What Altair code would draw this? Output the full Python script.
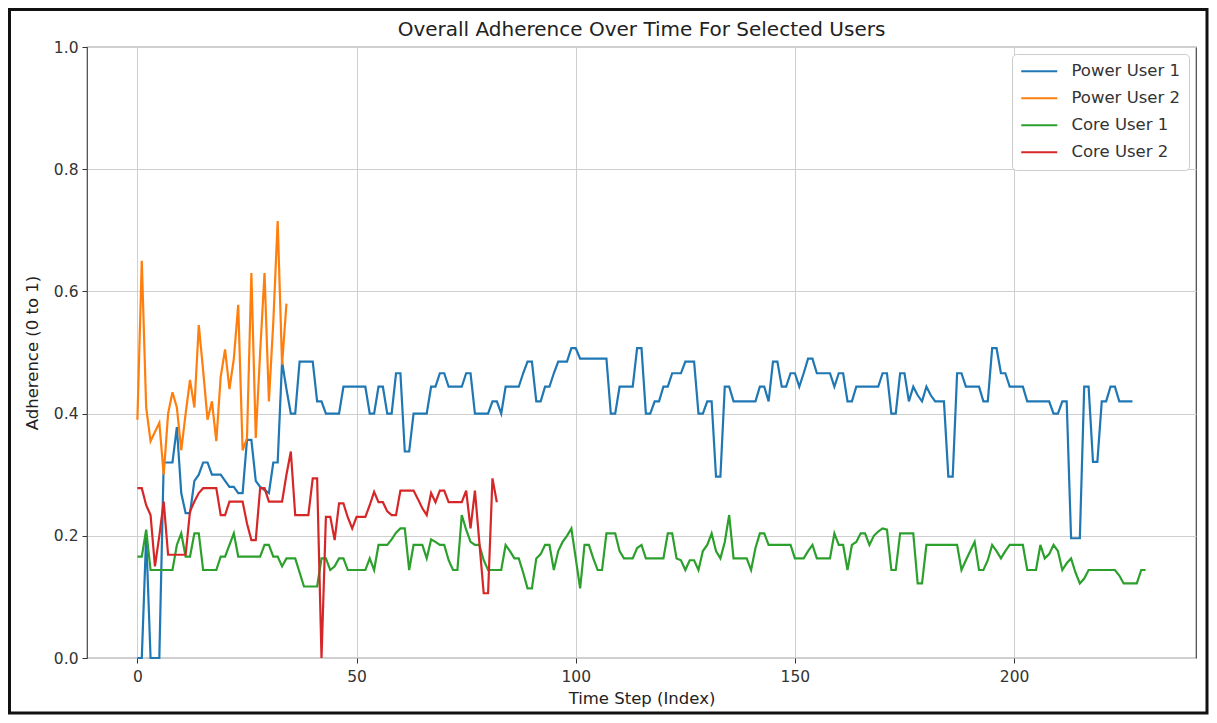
import altair as alt
import pandas as pd

power_user_1 = [
    0.0, 0.0, 0.2, 0.0, 0.0, 0.0, 0.32, 0.32, 0.32, 0.378,
    0.27, 0.237, 0.237, 0.29, 0.30, 0.32, 0.32, 0.30, 0.30, 0.30,
    0.29, 0.28, 0.28, 0.27, 0.27, 0.357, 0.357, 0.29, 0.28, 0.275,
    0.27, 0.32, 0.32, 0.485, 0.44, 0.40, 0.40, 0.485, 0.485, 0.485,
    0.485, 0.42, 0.42, 0.40, 0.40, 0.40, 0.40, 0.444, 0.444, 0.444,
    0.444, 0.444, 0.444, 0.40, 0.40, 0.444, 0.444, 0.40, 0.40, 0.466,
    0.466, 0.338, 0.338, 0.40, 0.40, 0.40, 0.40, 0.444, 0.444, 0.466,
    0.466, 0.444, 0.444, 0.444, 0.444, 0.466, 0.466, 0.40, 0.40, 0.40,
    0.40, 0.42, 0.42, 0.40, 0.444, 0.444, 0.444, 0.444, 0.466, 0.485,
    0.485, 0.42, 0.42, 0.444, 0.444, 0.466, 0.485, 0.485, 0.485, 0.507,
    0.507, 0.49, 0.49, 0.49, 0.49, 0.49, 0.49, 0.49, 0.40, 0.40,
    0.444, 0.444, 0.444, 0.444, 0.507, 0.507, 0.40, 0.40, 0.42, 0.42,
    0.444, 0.444, 0.466, 0.466, 0.466, 0.485, 0.485, 0.485, 0.40, 0.40,
    0.42, 0.42, 0.297, 0.297, 0.444, 0.444, 0.42, 0.42, 0.42, 0.42,
    0.42, 0.42, 0.444, 0.444, 0.42, 0.485, 0.485, 0.444, 0.444, 0.466,
    0.466, 0.444, 0.466, 0.49, 0.49, 0.466, 0.466, 0.466, 0.466, 0.444,
    0.466, 0.466, 0.42, 0.42, 0.444, 0.444, 0.444, 0.444, 0.444, 0.444,
    0.466, 0.466, 0.40, 0.40, 0.466, 0.466, 0.42, 0.444, 0.43, 0.42,
    0.444, 0.43, 0.42, 0.42, 0.42, 0.297, 0.297, 0.466, 0.466, 0.444,
    0.444, 0.444, 0.444, 0.42, 0.42, 0.507, 0.507, 0.466, 0.466, 0.444,
    0.444, 0.444, 0.444, 0.42, 0.42, 0.42, 0.42, 0.42, 0.42, 0.40,
    0.40, 0.42, 0.42, 0.196, 0.196, 0.196, 0.444, 0.444, 0.321, 0.321,
    0.42, 0.42, 0.444, 0.444, 0.42, 0.42, 0.42, 0.42,
]

power_user_2 = [
    0.39, 0.65, 0.41, 0.355, 0.37, 0.385, 0.30, 0.40, 0.435, 0.41,
    0.34, 0.40, 0.455, 0.41, 0.545, 0.47, 0.39, 0.42, 0.355, 0.46,
    0.505, 0.44, 0.49, 0.578, 0.34, 0.36, 0.63, 0.36, 0.50, 0.63,
    0.42, 0.55, 0.715, 0.48, 0.58,
]

core_user_1 = [
    0.166, 0.166, 0.21, 0.144, 0.144, 0.144, 0.144, 0.144, 0.144, 0.185,
    0.204, 0.166, 0.166, 0.204, 0.204, 0.144, 0.144, 0.144, 0.144, 0.166,
    0.166, 0.185, 0.204, 0.166, 0.166, 0.166, 0.166, 0.166, 0.166, 0.185,
    0.185, 0.166, 0.166, 0.15, 0.163, 0.163, 0.163, 0.14, 0.117, 0.117,
    0.117, 0.117, 0.163, 0.163, 0.144, 0.15, 0.163, 0.163, 0.144, 0.144,
    0.144, 0.144, 0.144, 0.163, 0.144, 0.185, 0.185, 0.185, 0.194, 0.205,
    0.212, 0.212, 0.144, 0.185, 0.185, 0.185, 0.163, 0.194, 0.19, 0.185,
    0.185, 0.16, 0.144, 0.144, 0.234, 0.21, 0.19, 0.185, 0.185, 0.16,
    0.144, 0.144, 0.144, 0.144, 0.185, 0.175, 0.163, 0.163, 0.14, 0.114,
    0.114, 0.163, 0.17, 0.185, 0.185, 0.144, 0.175, 0.19, 0.20, 0.212,
    0.163, 0.114, 0.185, 0.185, 0.163, 0.144, 0.144, 0.204, 0.204, 0.204,
    0.175, 0.163, 0.163, 0.163, 0.18, 0.185, 0.163, 0.163, 0.163, 0.163,
    0.163, 0.204, 0.204, 0.163, 0.16, 0.144, 0.16, 0.16, 0.144, 0.175,
    0.185, 0.204, 0.175, 0.163, 0.19, 0.234, 0.163, 0.163, 0.163, 0.163,
    0.144, 0.18, 0.204, 0.204, 0.185, 0.185, 0.185, 0.185, 0.185, 0.185,
    0.163, 0.163, 0.163, 0.175, 0.185, 0.163, 0.163, 0.163, 0.163, 0.204,
    0.185, 0.185, 0.144, 0.185, 0.19, 0.204, 0.204, 0.185, 0.2, 0.207,
    0.212, 0.21, 0.144, 0.144, 0.204, 0.204, 0.204, 0.204, 0.122, 0.122,
    0.185, 0.185, 0.185, 0.185, 0.185, 0.185, 0.185, 0.185, 0.144, 0.16,
    0.175, 0.19, 0.144, 0.144, 0.16, 0.185, 0.175, 0.163, 0.175, 0.185,
    0.185, 0.185, 0.185, 0.144, 0.144, 0.144, 0.185, 0.163, 0.17, 0.185,
    0.175, 0.144, 0.155, 0.163, 0.14, 0.122, 0.13, 0.144, 0.144, 0.144,
    0.144, 0.144, 0.144, 0.144, 0.135, 0.122, 0.122, 0.122, 0.122, 0.144,
    0.144,
]

core_user_2 = [
    0.278, 0.278, 0.25, 0.234, 0.15, 0.20, 0.256, 0.169, 0.169, 0.169,
    0.169, 0.169, 0.24, 0.256, 0.27, 0.278, 0.278, 0.278, 0.278, 0.234,
    0.234, 0.256, 0.256, 0.256, 0.256, 0.22, 0.193, 0.193, 0.278, 0.278,
    0.256, 0.256, 0.256, 0.256, 0.30, 0.338, 0.234, 0.234, 0.234, 0.234,
    0.294, 0.294, 0.0, 0.231, 0.231, 0.193, 0.253, 0.253, 0.23, 0.212,
    0.231, 0.231, 0.231, 0.25, 0.272, 0.255, 0.255, 0.24, 0.234, 0.234,
    0.274, 0.274, 0.274, 0.274, 0.26, 0.245, 0.234, 0.27, 0.255, 0.274,
    0.274, 0.255, 0.255, 0.255, 0.255, 0.274, 0.212, 0.274, 0.19, 0.106,
    0.106, 0.294, 0.255,
]

user_names = ["Power User 1", "Power User 2", "Core User 1", "Core User 2"]
user_colors = ["#1f77b4", "#ff7f0e", "#2ca02c", "#d62728"]
series = [power_user_1, power_user_2, core_user_1, core_user_2]

x_ticks = [0, 50, 100, 150, 200]
y_ticks = [0.0, 0.2, 0.4, 0.6, 0.8, 1.0]

rows = []
for name, vals in zip(user_names, series):
    for i, v in enumerate(vals):
        rows.append({"step": i, "adherence": v, "user": name})
df = pd.DataFrame(rows)

FONT = "DejaVu Sans"

color_scale = alt.Scale(domain=user_names, range=user_colors)

layers = []
for name in user_names:
    layers.append(
        alt.Chart(df)
        .transform_filter(alt.datum.user == name)
        .mark_line(strokeWidth=2.2)
        .encode(
            x=alt.X(
                "step:Q",
                scale=alt.Scale(domain=[-11.5, 241.5], nice=False, zero=False),
                axis=alt.Axis(values=x_ticks, title="Time Step (Index)", format="d"),
            ),
            y=alt.Y(
                "adherence:Q",
                scale=alt.Scale(domain=[0, 1], nice=False),
                axis=alt.Axis(values=y_ticks, title="Adherence (0 to 1)", format=".1f"),
            ),
            color=alt.Color(
                "user:N",
                scale=color_scale,
                legend=alt.Legend(
                    title=None,
                    orient="top-right",
                    offset=7,
                    fillColor="white",
                    strokeColor="#cccccc",
                    cornerRadius=4,
                    padding=9,
                    labelFont=FONT,
                    labelFontSize=16.5,
                    labelColor="#333333",
                    symbolType="M-4.5,0L4.5,0",
                    symbolSize=64,
                    symbolStrokeWidth=2.2,
                    symbolOffset=10,
                    labelOffset=24,
                    rowPadding=10,
                ),
            ),
        )
    )

frame = (
    alt.Chart(alt.Data(values=[{"f": 1}]))
    .mark_rect(filled=False, stroke="#111111", strokeWidth=3)
    .encode(
        x=alt.value(-77.5),
        x2=alt.value(1120),
        y=alt.value(-37.5),
        y2=alt.value(666),
    )
)

chart = (
    alt.layer(*layers, frame)
    .properties(
        width=1109,
        height=611,
        autosize=alt.AutoSizeParams(type="none"),
        padding={"left": 79, "top": 39, "right": 13, "bottom": 57},
        title=alt.TitleParams(
            "Overall Adherence Over Time For Selected Users",
            font=FONT,
            fontSize=20,
            fontWeight="normal",
            color="#222222",
            anchor="middle",
            frame="group",
            offset=-32,
        ),
    )
    .configure_view(stroke="#444444", strokeWidth=1.2)
    .configure_axis(
        domain=False,
        grid=True,
        gridColor="#cfcfcf",
        gridWidth=1,
        tickColor="#333333",
        tickSize=5,
        labelFont=FONT,
        labelFontSize=15.5,
        labelColor="#333333",
        labelPadding=4,
        titleFont=FONT,
        titleFontSize=16.5,
        titleFontWeight="normal",
        titleColor="#222222",
    )
    .configure_axisX(labelPadding=6, titlePadding=6)
    .configure_axisY(titlePadding=13)
)

chart.save("out.html", embed_options={"renderer": "svg", "actions": False})
